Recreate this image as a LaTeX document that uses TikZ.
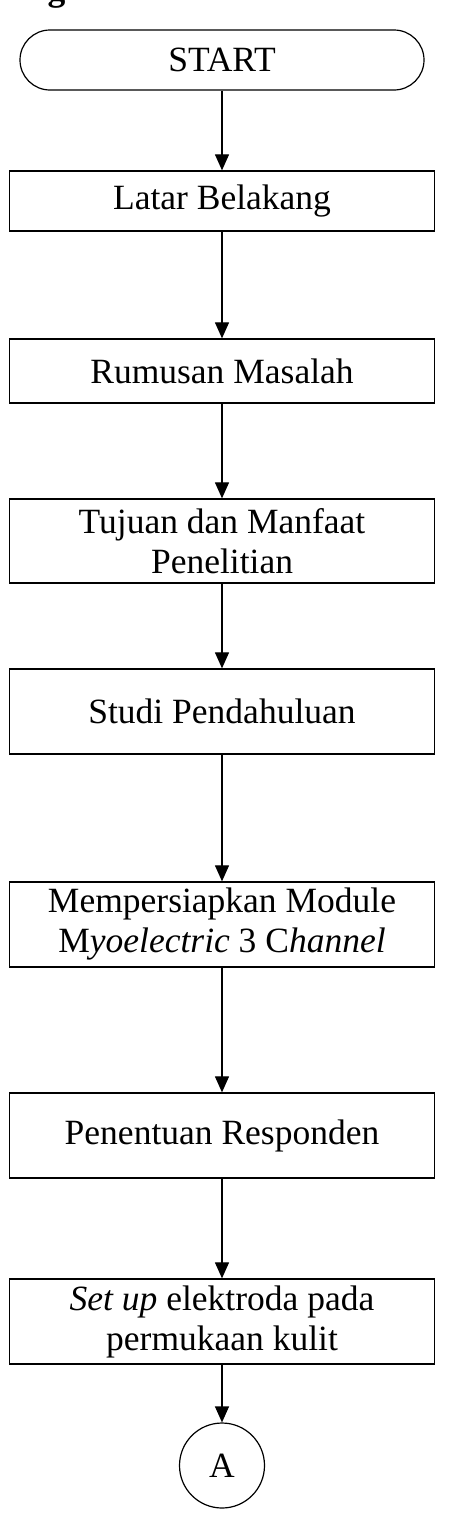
\documentclass[tikz,border=0pt]{standalone}
\usepackage{fontspec}
\setmainfont{Liberation Serif}
\usetikzlibrary{shapes, arrows.meta, positioning, calc}

\begin{document}
\begin{tikzpicture}[x=1pt, y=-1pt,
    font=\fontsize{35.5}{40}\selectfont,
    terminal/.style={draw, line width=1.2pt, rounded corners=30pt,
        minimum width=404pt, minimum height=60pt, inner sep=0pt},
    process/.style={draw, line width=1.3pt, minimum width=425.5pt,
        inner sep=0pt, align=center},
    connector/.style={draw, circle, line width=1.2pt, minimum size=85pt, inner sep=0pt},
    flow/.style={line width=1.2pt, -{Triangle[length=16pt, width=14pt]}}]
                \useasboundingbox (0, 0) rectangle (448, 1523);
                
                % Potongan judul
                \node[anchor=base west, font=\fontsize{35.5}{40}\selectfont\bfseries] (heading) at (44, 0) {g};
                
                % Terminal
                \node[terminal] (start) at (222, 60) {START};
                
                % Proses
                \node[process, minimum height=60pt] (latar) at (222, 201) {Latar Belakang};
                \node[process, minimum height=64pt] (rumusan) at (222, 371) {Rumusan Masalah};
                \node[process, minimum height=84pt] (tujuan) at (222, 541) {Tujuan dan Manfaat\\Penelitian};
                \node[process, minimum height=85pt] (studi) at (222, 711.5) {Studi Pendahuluan};
                \node[process, minimum height=85pt] (modul) at (222, 924.5) {Mempersiapkan Module\\M\textit{yoelectric} 3 C\textit{hannel}};
                \node[process, minimum height=85pt] (responden) at (222, 1135.5) {Penentuan Responden};
                \node[process, minimum height=85pt] (setup) at (222, 1321.5) {\textit{Set up} elektroda pada\\permukaan kulit};
                
                % Penghubung
                \node[connector] (a) at (222, 1465.5) {A};
                
                % Panah
                \draw[flow] (start) -- (latar);
                \draw[flow] (latar) -- (rumusan);
                \draw[flow] (rumusan) -- (tujuan);
                \draw[flow] (tujuan) -- (studi);
                \draw[flow] (studi) -- (modul);
                \draw[flow] (modul) -- (responden);
                \draw[flow] (responden) -- (setup);
                \draw[flow] (setup) -- (a);
            \end{tikzpicture}
\end{document}
